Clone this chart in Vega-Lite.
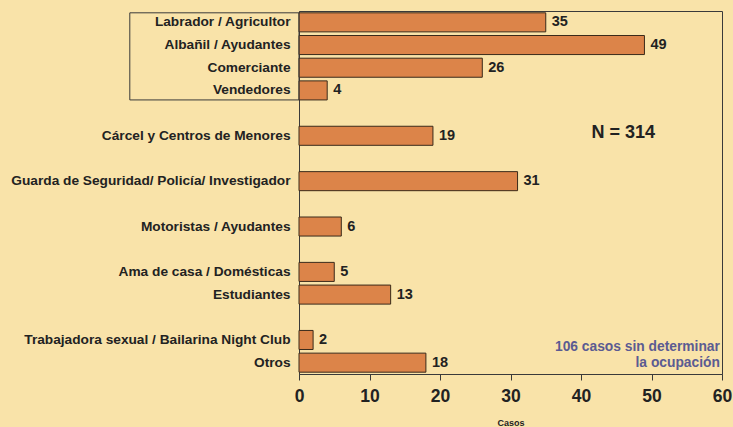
{
  "$schema": "https://vega.github.io/schema/vega-lite/v6.json",
  "width": 423,
  "height": 363,
  "autosize": {"type": "none"},
  "padding": {"left": 299, "top": 11, "right": 11, "bottom": 53},
  "background": "#F9E3A9",
  "config": {
    "font": "Arial",
    "view": {"stroke": "#3a3a3a", "strokeWidth": 1},
    "axis": {"grid": false, "domainColor": "#3a3a3a", "tickColor": "#3a3a3a", "labelColor": "#222222", "titleColor": "#222222", "labelFontWeight": "bold", "titleFontWeight": "bold", "labelFont": "Arial", "titleFont": "Arial"},
    "text": {"font": "Arial"}
  },
  "datasets": {
    "ocupaciones": [
      {"ocupacion": "Labrador / Agricultor", "casos": 35},
      {"ocupacion": "Albañil / Ayudantes", "casos": 49},
      {"ocupacion": "Comerciante", "casos": 26},
      {"ocupacion": "Vendedores", "casos": 4},
      {"ocupacion": "Cárcel y Centros de Menores", "casos": 19},
      {"ocupacion": "Guarda de Seguridad/ Policía/ Investigador", "casos": 31},
      {"ocupacion": "Motoristas / Ayudantes", "casos": 6},
      {"ocupacion": "Ama de casa / Domésticas", "casos": 5},
      {"ocupacion": "Estudiantes", "casos": 13},
      {"ocupacion": "Trabajadora sexual / Bailarina Night Club", "casos": 2},
      {"ocupacion": "Otros", "casos": 18}
    ],
    "uno": [{"nota": "anotación"}]
  },
  "data": {"name": "ocupaciones"},
  "encoding": {
    "y": {
      "field": "ocupacion",
      "type": "nominal",
      "scale": {
        "domain": ["Labrador / Agricultor", "Albañil / Ayudantes", "Comerciante", "Vendedores", " ", "Cárcel y Centros de Menores", "  ", "Guarda de Seguridad/ Policía/ Investigador", "   ", "Motoristas / Ayudantes", "    ", "Ama de casa / Domésticas", "Estudiantes", "     ", "Trabajadora sexual / Bailarina Night Club", "Otros"],
        "paddingInner": 0.16,
        "paddingOuter": 0.08
      },
      "axis": {"title": null, "ticks": false, "labelPadding": 9, "labelFontSize": 13.7, "labelLimit": 400}
    }
  },
  "layer": [
    {
      "mark": {"type": "bar", "fill": "#DC8449", "stroke": "#3a2a1a", "strokeWidth": 1},
      "encoding": {
        "x": {
          "field": "casos",
          "type": "quantitative",
          "scale": {"domain": [0, 60], "nice": false},
          "axis": {"title": "Casos", "titleFontSize": 9, "titlePadding": 14, "values": [0, 10, 20, 30, 40, 50, 60], "tickSize": 6, "labelFontSize": 17.5, "labelPadding": 7, "labelFlush": false}
        }
      }
    },
    {
      "mark": {"type": "text", "align": "left", "dx": 6, "fontWeight": "bold", "fontSize": 14.5, "color": "#222222"},
      "encoding": {
        "x": {"field": "casos", "type": "quantitative"},
        "text": {"field": "casos", "type": "quantitative"}
      }
    },
    {
      "data": {"name": "uno"},
      "mark": {"type": "rect", "fill": null, "stroke": "#3a3a3a", "strokeWidth": 1},
      "encoding": {
        "x": {"datum": -24},
        "x2": {"datum": 0},
        "y": {"datum": "Labrador / Agricultor", "bandPosition": 0},
        "y2": {"datum": "Vendedores", "bandPosition": 1}
      }
    },
    {
      "data": {"name": "uno"},
      "mark": {"type": "text", "text": "N = 314", "fontWeight": "bold", "fontSize": 18, "color": "#222222", "dy": -3},
      "encoding": {
        "x": {"datum": 46},
        "y": {"datum": "Cárcel y Centros de Menores"}
      }
    },
    {
      "data": {"name": "uno"},
      "mark": {"type": "text", "text": ["106 casos sin determinar", "la ocupación"], "align": "right", "baseline": "middle", "lineHeight": 16, "fontWeight": "bold", "fontSize": 13.8, "color": "#5B5B92", "dy": -16},
      "encoding": {
        "x": {"datum": 59.7},
        "y": {"datum": "Otros"}
      }
    }
  ]
}
